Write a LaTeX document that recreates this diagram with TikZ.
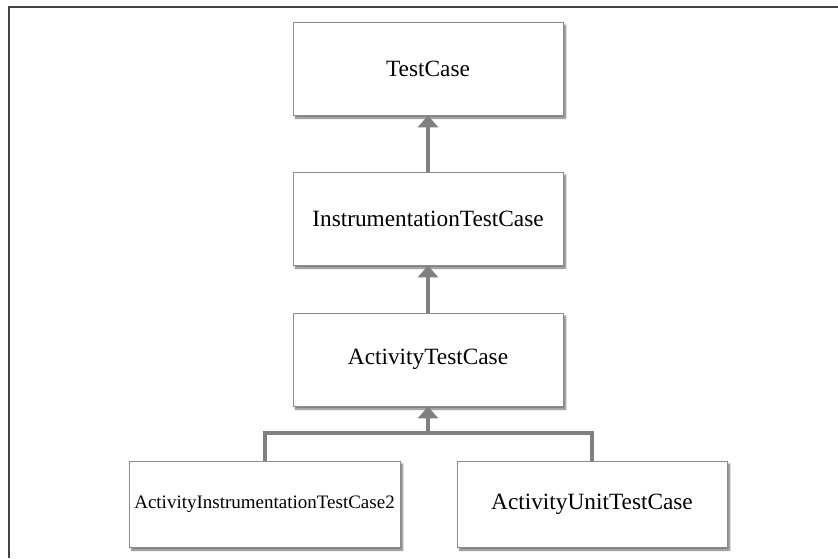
\documentclass[tikz,border=0pt]{standalone}
\usepackage{fontspec}
\setmainfont{Liberation Serif}
\usetikzlibrary{arrows.meta,shadows.blur}
\definecolor{boxline}{HTML}{8C8C8C}
\definecolor{arrowgray}{HTML}{808080}
\definecolor{framegray}{HTML}{444444}
\tikzset{
  classbox/.style={draw=boxline, line width=0.8pt, fill=white, minimum width=270pt, minimum height=93pt, inner sep=0pt,
    blur shadow={shadow xshift=2.5pt, shadow yshift=-3pt, shadow blur steps=5, shadow opacity=55},
    font=\fontsize{23.3}{27}\selectfont},
  inherit/.style={draw=arrowgray, line width=4pt, -{Triangle[width=20pt,length=12pt]}},
  link/.style={draw=arrowgray, line width=4pt},
}
\begin{document}
\begin{tikzpicture}[x=1pt,y=-1pt]
\useasboundingbox (0,0) rectangle (838,558);
\coordinate (ftl) at (8.5,6.5);
\coordinate (ftr) at (838,6.5);
\coordinate (fbl) at (8.5,558);
\draw[framegray, line width=2pt] (fbl) -- (ftl) -- (ftr);

\node[classbox] (tc) at (428,68.5) {TestCase};
\node[classbox] (itc) at (428,218.5) {InstrumentationTestCase};
\node[classbox] (atc) at (428,359.5) {ActivityTestCase};
\node[classbox, minimum width=271pt, minimum height=86pt, font=\fontsize{19}{22}\selectfont] (aitc) at (264.5,504) {ActivityInstrumentationTestCase2};
\node[classbox, minimum width=270pt, minimum height=86pt] (autc) at (592,504) {ActivityUnitTestCase};

\draw[inherit] (itc.north) -- (tc.south);
\draw[inherit] (atc.north) -- (itc.south);
\coordinate (j) at (428,433);
\draw[inherit] (j) -- (atc.south);
\draw[link] (aitc.north) |- (j) -| (autc.north);
\end{tikzpicture}
\end{document}
